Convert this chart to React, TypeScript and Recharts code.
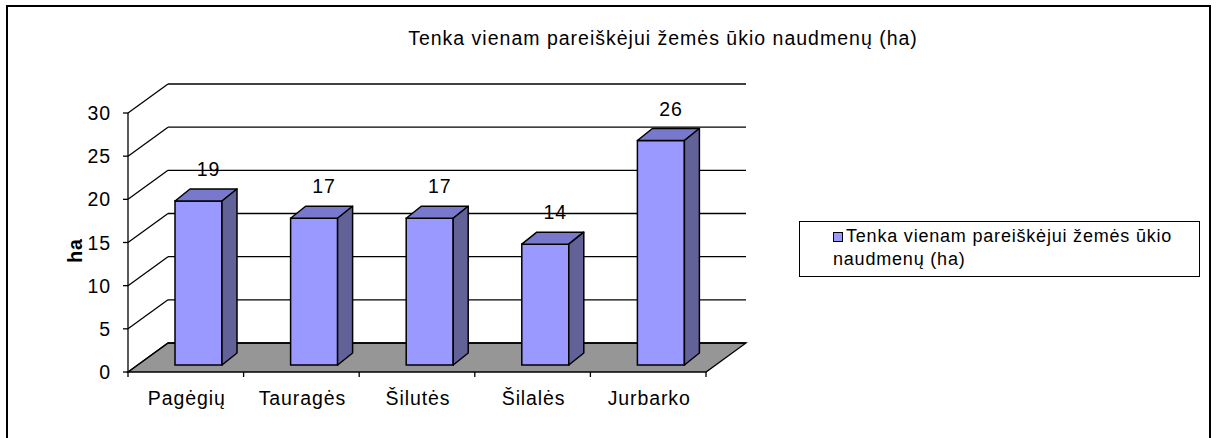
import React from "react";
import { BarChart, Bar, XAxis, YAxis, CartesianGrid, LabelList } from "recharts";

const SERIES_NAME = "Tenka vienam pareiškėjui žemės ūkio naudmenų (ha)";
const categories = ["Pagėgių", "Tauragės", "Šilutės", "Šilalės", "Jurbarko"];
const values = [19, 17, 17, 14, 26];
const yTicks = [0, 5, 10, 15, 20, 25, 30];

const data = categories.map((name, i) => ({ name, value: values[i] }));

const W = 1216;
const H = 438;
const Y_AXIS_W = 60;
const X_AXIS_H = 30;
const MARGIN = { top: 106, right: 500, bottom: 43, left: 78 };
const PLOT_LEFT = MARGIN.left + Y_AXIS_W;
const PLOT_TOP = MARGIN.top;
const PLOT_BOTTOM = H - MARGIN.bottom - X_AXIS_H;

// fake 3D: front plane and back wall are offsets of the bar plane
const FRONT = { dx: -10, dy: 7 };
const BACK = { dx: 30, dy: -22 };
const BAR_DX = 15;
const BAR_DY = 12;
const BAR_SHIFT = 3;

const FONT = '"Liberation Sans", Arial, sans-serif';
const TEXT = { fontFamily: FONT, fontSize: 19.5, letterSpacing: 0.9, fill: "#000" };

const BAR_FRONT = "#9999ff";
const BAR_TOP = "#7878cc";
const BAR_SIDE = "#626299";
const FLOOR = "#969696";

function WallLine(props: any) {
  const { x1, x2, y1 } = props;
  const fx = x1 + FRONT.dx;
  const fy = y1 + FRONT.dy;
  const bx = x1 + BACK.dx;
  const by = y1 + BACK.dy;
  const isFloor = Math.abs(y1 - PLOT_BOTTOM) < 0.5;
  const band = (x2 - x1) / categories.length;
  return (
    <g key={props.key}>
      {isFloor && (
        <polygon
          points={`${fx},${fy} ${x2 + FRONT.dx},${fy} ${x2 + BACK.dx},${by} ${bx},${by}`}
          fill={FLOOR}
          stroke="#000"
          strokeWidth={1.3}
        />
      )}
      <line x1={fx} y1={fy} x2={bx} y2={by} stroke="#000" strokeWidth={1.3} />
      <line x1={bx} y1={by} x2={x2 + BACK.dx} y2={by} stroke="#000" strokeWidth={1.3} />
      {isFloor && (
        <>
          <line x1={fx} y1={PLOT_TOP + FRONT.dy} x2={fx} y2={fy} stroke="#000" strokeWidth={1.3} />
          {categories.concat([""]).map((_, i) => (
            <line
              key={i}
              x1={fx + i * band}
              y1={fy}
              x2={fx + i * band}
              y2={fy + 5}
              stroke="#000"
              strokeWidth={1.3}
            />
          ))}
        </>
      )}
    </g>
  );
}

function YTick({ y, payload }: any) {
  const fx = PLOT_LEFT + FRONT.dx;
  const fy = y + FRONT.dy;
  return (
    <g>
      <line x1={fx - 5} y1={fy} x2={fx} y2={fy} stroke="#000" strokeWidth={1.3} />
      <text x={fx - 17} y={fy + 7} textAnchor="end" style={TEXT}>
        {payload.value}
      </text>
    </g>
  );
}

function XTick({ x, payload }: any) {
  return (
    <text x={x + FRONT.dx + 1} y={PLOT_BOTTOM + 40} textAnchor="middle" style={TEXT}>
      {payload.value}
    </text>
  );
}

function Box3D({ x: x0, y, width, height }: any) {
  const x = x0 + BAR_SHIFT;
  const r = x + width;
  return (
    <g>
      <rect x={x} y={y} width={width} height={height} fill={BAR_FRONT} stroke="#000" strokeWidth={1.5} />
      <polygon
        points={`${x},${y} ${x + BAR_DX},${y - BAR_DY} ${r + BAR_DX},${y - BAR_DY} ${r},${y}`}
        fill={BAR_TOP}
        stroke="#000"
        strokeWidth={1.5}
        strokeLinejoin="round"
      />
      <polygon
        points={`${r},${y} ${r + BAR_DX},${y - BAR_DY} ${r + BAR_DX},${y + height - BAR_DY} ${r},${y + height}`}
        fill={BAR_SIDE}
        stroke="#000"
        strokeWidth={1.5}
        strokeLinejoin="round"
      />
    </g>
  );
}

function ValueLabel({ x, y, width, value }: any) {
  return (
    <text x={x + BAR_SHIFT + width / 2 + 10} y={y - 25} textAnchor="middle" style={TEXT}>
      {value}
    </text>
  );
}

function AxisTitle({ viewBox }: any) {
  const cx = 75;
  const cy = viewBox.y + viewBox.height / 2 + 15;
  return (
    <text
      x={cx}
      y={cy}
      transform={`rotate(-90 ${cx} ${cy})`}
      textAnchor="middle"
      dominantBaseline="central"
      style={{ ...TEXT, fontWeight: "bold" }}
    >
      ha
    </text>
  );
}

export default function App() {
  return (
    <div style={{ position: "absolute", left: 0, top: 0, width: W, height: H, overflow: "hidden", background: "#fff" }}>
      <div
        style={{
          position: "absolute",
          left: 6,
          top: 5,
          width: 1205,
          height: 460,
          border: "2px solid #000",
          boxSizing: "border-box",
        }}
      />
      <div
        style={{
          position: "absolute",
          left: 263,
          top: 27,
          width: 800,
          textAlign: "center",
          fontFamily: FONT,
          fontSize: 19.5,
          letterSpacing: 1,
          lineHeight: "22px",
        }}
      >
        {SERIES_NAME}
      </div>
      <BarChart
        width={W}
        height={H}
        data={data}
        margin={MARGIN}
        style={{ position: "absolute", left: 0, top: 0 }}
      >
        <CartesianGrid horizontal={(p: any) => <WallLine {...p} />} vertical={false} />
        <XAxis dataKey="name" height={X_AXIS_H} axisLine={false} tickLine={false} tick={<XTick />} interval={0} />
        <YAxis
          type="number"
          domain={[0, 30]}
          ticks={yTicks}
          width={Y_AXIS_W}
          axisLine={false}
          tickLine={false}
          tick={<YTick />}
          label={<AxisTitle />}
        />
        <Bar dataKey="value" name={SERIES_NAME} fill={BAR_FRONT} barSize={47} shape={<Box3D />} isAnimationActive={false}>
          <LabelList dataKey="value" content={<ValueLabel />} />
        </Bar>
      </BarChart>
      <div
        style={{
          position: "absolute",
          left: 799,
          top: 221,
          width: 401,
          height: 56,
          border: "1.5px solid #000",
          boxSizing: "border-box",
          padding: "3px 10px 0 33px",
          fontFamily: FONT,
          fontSize: 18,
          letterSpacing: 0.8,
          lineHeight: "23px",
        }}
      >
        <span
          style={{
            display: "inline-block",
            width: 8,
            height: 8,
            background: BAR_FRONT,
            border: "1.5px solid #000",
            marginRight: 3,
          }}
        />
        {SERIES_NAME}
      </div>
    </div>
  );
}
